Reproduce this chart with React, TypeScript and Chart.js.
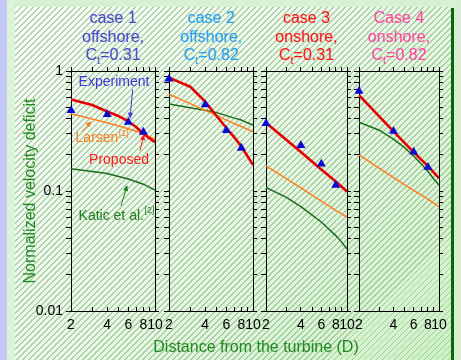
import React, { useEffect, useRef } from 'react';
import { Chart, registerables } from 'chart.js';

Chart.register(...registerables);

// ---------- axis ticks ----------
const xTicks = [2, 3, 4, 5, 6, 7, 8, 9, 10];
const xLabeled = [2, 4, 6, 8, 10];
const yTicks = [0.01, 0.02, 0.03, 0.04, 0.05, 0.06, 0.07, 0.08, 0.09, 0.1, 0.2, 0.3, 0.4, 0.5, 0.6, 0.7, 0.8, 0.9, 1];
const yLabeledValues = [0.01, 0.1, 1];
const yLabelTexts = ['0.01', '0.1', '1'];

// ---------- x positions ----------
const expX = [2, 4, 6, 8];
const fineX = [2, 3, 4, 5, 6, 7, 8, 9, 10];
const coarseX = [2, 4, 6, 8, 10];

// ---------- case 1: offshore, Ct=0.31 ----------
const exp1 = [0.47, 0.435, 0.375, 0.31];
const proposed1 = [0.58, 0.52, 0.46, 0.42, 0.38, 0.34, 0.3, 0.275, 0.255];
const larsen1 = [0.44, 0.37, 0.33, 0.3, 0.27];
const katic1 = [0.153, 0.14, 0.126, 0.114, 0.102];

// ---------- case 2: offshore, Ct=0.82 ----------
const exp2 = [0.86, 0.525, 0.32, 0.228];
const proposed2 = [0.88, 0.74, 0.555, 0.42, 0.335, 0.28, 0.235, 0.195, 0.165];
const larsen2 = [0.64, 0.47, 0.39, 0.345, 0.312];
const katic2 = [0.53, 0.495, 0.47, 0.45, 0.425, 0.405, 0.39, 0.37, 0.355];

// ---------- case 3: onshore, Ct=0.31 ----------
const exp3 = [0.365, 0.24, 0.168, 0.112];
const proposed3 = [0.37, 0.211, 0.151, 0.12, 0.099];
const larsen3 = [0.162, 0.106, 0.0825, 0.069, 0.0606];
const katic3 = [0.107, 0.0884, 0.074, 0.063, 0.0552, 0.048, 0.0425, 0.0375, 0.0328];

// ---------- case 4: onshore, Ct=0.82 ----------
const exp4 = [0.68, 0.315, 0.212, 0.158];
const proposed4 = [0.63, 0.314, 0.211, 0.161, 0.128];
const larsen4 = [0.2, 0.129, 0.101, 0.0855, 0.074];
const katic4 = [0.374, 0.321, 0.27, 0.23, 0.196, 0.168, 0.146, 0.126, 0.112];

// ---------- annotations (panel 1, data coords) ----------
const annotTexts = [
  { main: 'Experiment', sup: '', x: 4.56, y: 0.8, color: '#3a3ad8' },
  { main: 'Larsen', sup: '[1]', x: 3.62, y: 0.275, color: '#ff7a1a' },
  { main: 'Proposed', sup: '', x: 5.02, y: 0.181, color: '#ff1a1a' },
  { main: 'Katic et al.', sup: '[2]', x: 4.76, y: 0.062, color: '#1e7e1e' },
];
const annotArrows = [
  { x1: 6.52, y1: 0.704, x2: 6.19, y2: 0.4, color: '#3a3ad8' },
  { x1: 2.46, y1: 0.312, x2: 2.97, y2: 0.383, color: '#ff7a1a' },
  { x1: 7.5, y1: 0.217, x2: 8.1, y2: 0.298, color: '#ff1a1a' },
  { x1: 5.21, y1: 0.075, x2: 5.88, y2: 0.112, color: '#1e7e1e' },
];

const FONT = '"Liberation Sans", Arial, Helvetica, sans-serif';
const RED = '#e60000';
const ORANGE = '#ff7f1e';
const GREEN = '#1b6d1b';
const BLUE = '#0a0ad0';

const toPts = (xs: number[], ys: number[]) => xs.map((x, i) => ({ x, y: ys[i] }));

const panels = [
  {
    lines: ['case 1', 'offshore,'], ct: '0.31', color: '#4848c8',
    plotLeft: 71, plotRight: 155, first: true,
    exp: exp1, proposed: toPts(fineX, proposed1), larsen: toPts(coarseX, larsen1), katic: toPts(coarseX, katic1),
  },
  {
    lines: ['case 2', 'offshore,'], ct: '0.82', color: '#22a0f0',
    plotLeft: 169, plotRight: 253, first: false,
    exp: exp2, proposed: toPts(fineX, proposed2), larsen: toPts(coarseX, larsen2), katic: toPts(fineX, katic2),
  },
  {
    lines: ['case 3', 'onshore,'], ct: '0.31', color: '#ff1010',
    plotLeft: 266, plotRight: 347, first: false,
    exp: exp3, proposed: toPts(coarseX, proposed3), larsen: toPts(coarseX, larsen3), katic: toPts(fineX, katic3),
  },
  {
    lines: ['Case 4', 'onshore,'], ct: '0.82', color: '#ff46a0',
    plotLeft: 359, plotRight: 439, first: false,
    exp: exp4, proposed: toPts(coarseX, proposed4), larsen: toPts(coarseX, larsen4), katic: toPts(fineX, katic4),
  },
];

const PLOT_TOP = 71;
const PLOT_BOTTOM = 311;
const T = 10;
const B = 34;
const R = 14;

const annotPlugin = {
  id: 'annotations',
  afterDatasetsDraw(chart: any) {
    const ctx = chart.ctx;
    const xs = chart.scales.x;
    const ys = chart.scales.y;
    ctx.save();
    annotArrows.forEach((a) => {
      const px1 = xs.getPixelForValue(a.x1), py1 = ys.getPixelForValue(a.y1);
      const px2 = xs.getPixelForValue(a.x2), py2 = ys.getPixelForValue(a.y2);
      const ang = Math.atan2(py2 - py1, px2 - px1);
      ctx.strokeStyle = a.color;
      ctx.fillStyle = a.color;
      ctx.lineWidth = 1;
      ctx.beginPath();
      ctx.moveTo(px1, py1);
      ctx.lineTo(px2 - Math.cos(ang) * 3, py2 - Math.sin(ang) * 3);
      ctx.stroke();
      const hl = 6, hw = 2.6;
      ctx.beginPath();
      ctx.moveTo(px2, py2);
      ctx.lineTo(px2 - Math.cos(ang) * hl - Math.sin(ang) * hw, py2 - Math.sin(ang) * hl + Math.cos(ang) * hw);
      ctx.lineTo(px2 - Math.cos(ang) * hl + Math.sin(ang) * hw, py2 - Math.sin(ang) * hl - Math.cos(ang) * hw);
      ctx.closePath();
      ctx.fill();
    });
    annotTexts.forEach((t) => {
      const cx = xs.getPixelForValue(t.x), cy = ys.getPixelForValue(t.y);
      ctx.font = `14px ${FONT}`;
      const mw = ctx.measureText(t.main).width;
      ctx.font = `9px ${FONT}`;
      const sw = t.sup ? ctx.measureText(t.sup).width : 0;
      const sx = cx - (mw + sw) / 2;
      ctx.fillStyle = t.color;
      ctx.textBaseline = 'middle';
      ctx.textAlign = 'left';
      ctx.font = `14px ${FONT}`;
      ctx.fillText(t.main, sx, cy);
      if (t.sup) {
        ctx.font = `9px ${FONT}`;
        ctx.fillText(t.sup, sx + mw + 0.5, cy - 5);
      }
    });
    ctx.restore();
  },
};

function Panel({ p }: { p: any }) {
  const ref = useRef<HTMLCanvasElement>(null);
  const L = p.first ? 45 : 14;
  const width = p.plotRight - p.plotLeft + L + R;
  const height = PLOT_BOTTOM - PLOT_TOP + T + B;
  const left = p.plotLeft - L;
  const top = PLOT_TOP - T;

  useEffect(() => {
    if (!ref.current) return;
    const tickFont = { family: FONT, size: 14 };
    const border = { display: true, color: '#000', width: 1 };
    const setX = (s: any) => { s.ticks = xTicks.map((v) => ({ value: v })); };
    const setY = (s: any) => { s.ticks = yTicks.map((v) => ({ value: v })); };
    const chart = new Chart(ref.current, {
      type: 'line',
      data: {
        datasets: [
          {
            label: 'Experiment',
            data: toPts(expX, p.exp),
            showLine: false,
            clip: false,
            pointStyle: 'triangle',
            pointRadius: 5.2,
            pointBackgroundColor: BLUE,
            pointBorderColor: BLUE,
            pointBorderWidth: 0,
          },
          {
            label: 'Proposed',
            data: p.proposed,
            borderColor: RED,
            borderWidth: 2.6,
            pointRadius: 0,
            fill: false,
            tension: 0,
          },
          {
            label: 'Larsen',
            data: p.larsen,
            borderColor: ORANGE,
            borderWidth: 1.5,
            pointRadius: 0,
            fill: false,
            tension: 0,
          },
          {
            label: 'Katic et al.',
            data: p.katic,
            borderColor: GREEN,
            borderWidth: 1.5,
            pointRadius: 0,
            fill: false,
            tension: 0,
          },
        ],
      } as any,
      options: {
        animation: false,
        responsive: false,
        maintainAspectRatio: false,
        events: [],
        layout: { padding: 0 },
        plugins: {
          legend: { display: false },
          tooltip: { enabled: false },
          title: { display: false },
        },
        scales: {
          x: {
            type: 'logarithmic',
            position: 'bottom',
            min: 2,
            max: 10,
            afterBuildTicks: setX,
            afterFit: (s: any) => { s.height = B; s.paddingLeft = 0; s.paddingRight = 0; },
            ticks: {
              autoSkip: false,
              maxRotation: 0,
              minRotation: 0,
              padding: 10,
              font: tickFont,
              color: '#000',
              callback: (v: any) => (xLabeled.includes(Number(v)) ? String(v) : ''),
            },
            grid: { drawOnChartArea: false, drawTicks: true, tickLength: -4, color: '#000' },
            border,
          },
          x2: {
            type: 'logarithmic',
            position: 'top',
            min: 2,
            max: 10,
            afterBuildTicks: setX,
            afterFit: (s: any) => { s.height = T; s.paddingLeft = 0; s.paddingRight = 0; },
            ticks: { display: false, autoSkip: false },
            grid: { drawOnChartArea: false, drawTicks: true, tickLength: 4, color: '#000' },
            border,
          },
          y: {
            type: 'logarithmic',
            position: 'left',
            min: 0.01,
            max: 1,
            afterBuildTicks: setY,
            afterFit: (s: any) => { s.width = L; s.paddingTop = 0; s.paddingBottom = 0; },
            ticks: {
              display: p.first,
              autoSkip: false,
              padding: 3,
              font: tickFont,
              color: '#000',
              callback: (v: any) => {
                const i = yLabeledValues.indexOf(Number(v));
                return i >= 0 ? yLabelTexts[i] : '';
              },
            },
            grid: { drawOnChartArea: false, drawTicks: true, tickLength: 5, color: '#000' },
            border,
          },
          y2: {
            type: 'logarithmic',
            position: 'right',
            min: 0.01,
            max: 1,
            afterBuildTicks: setY,
            afterFit: (s: any) => { s.width = R; s.paddingTop = 0; s.paddingBottom = 0; },
            ticks: { display: false, autoSkip: false },
            grid: { drawOnChartArea: false, drawTicks: true, tickLength: 4, color: '#000' },
            border,
          },
        },
      } as any,
      plugins: p.first ? [annotPlugin as any] : [],
    });
    return () => chart.destroy();
  }, []);

  return (
    <canvas
      ref={ref}
      width={width}
      height={height}
      style={{ position: 'absolute', left, top, width, height }}
    />
  );
}

function PanelTitle({ p }: { p: any }) {
  const cx = (p.plotLeft + p.plotRight) / 2;
  return (
    <div
      style={{
        position: 'absolute',
        left: cx - 60,
        top: 9,
        width: 120,
        textAlign: 'center',
        fontFamily: FONT,
        fontSize: 16,
        lineHeight: '18.5px',
        color: p.color,
        whiteSpace: 'nowrap',
      }}
    >
      <div>{p.lines[0]}</div>
      <div>{p.lines[1]}</div>
      <div>
        C<span style={{ fontSize: 11, position: 'relative', top: 4, lineHeight: 1 }}>t</span>={p.ct}
      </div>
    </div>
  );
}

export default function App() {
  return (
    <div
      style={{
        position: 'fixed',
        left: 0,
        top: 0,
        width: 461,
        height: 360,
        overflow: 'hidden',
        background: '#d6f1d2',
        fontFamily: FONT,
      }}
    >
      <div style={{ position: 'absolute', left: 0, top: 0, width: 7, height: 360, background: '#c6c8f4' }} />
      <div style={{ position: 'absolute', left: 7, top: 0, width: 8, height: 360, background: '#dcf3da' }} />
      <div
        style={{
          position: 'absolute',
          left: 15,
          top: 7,
          width: 436,
          height: 353,
          background:
            'repeating-linear-gradient(135deg, rgba(110,150,110,0.45) 0px, rgba(110,150,110,0.45) 1px, rgba(0,0,0,0) 1px, rgba(0,0,0,0) 4.24px), linear-gradient(135deg, #f6fff4 0%, #e8fae4 50%, #cdf2c6 100%)',
        }}
      />
      <div style={{ position: 'absolute', left: 451, top: 8, width: 3, height: 352, background: '#0b650b' }} />

      {panels.map((p, i) => (
        <PanelTitle key={'t' + i} p={p} />
      ))}
      {panels.map((p, i) => (
        <Panel key={'p' + i} p={p} />
      ))}

      <div
        style={{
          position: 'absolute',
          left: 30 - 130,
          top: 191 - 10,
          width: 260,
          height: 20,
          lineHeight: '20px',
          textAlign: 'center',
          transform: 'rotate(-90deg)',
          color: '#1f8a1f',
          fontSize: 16,
          whiteSpace: 'nowrap',
        }}
      >
        Normalized velocity deficit
      </div>
      <div
        style={{
          position: 'absolute',
          left: 256 - 150,
          top: 337,
          width: 300,
          height: 20,
          lineHeight: '20px',
          textAlign: 'center',
          color: '#1f8a1f',
          fontSize: 16,
          whiteSpace: 'nowrap',
        }}
      >
        Distance from the turbine (D)
      </div>
    </div>
  );
}
